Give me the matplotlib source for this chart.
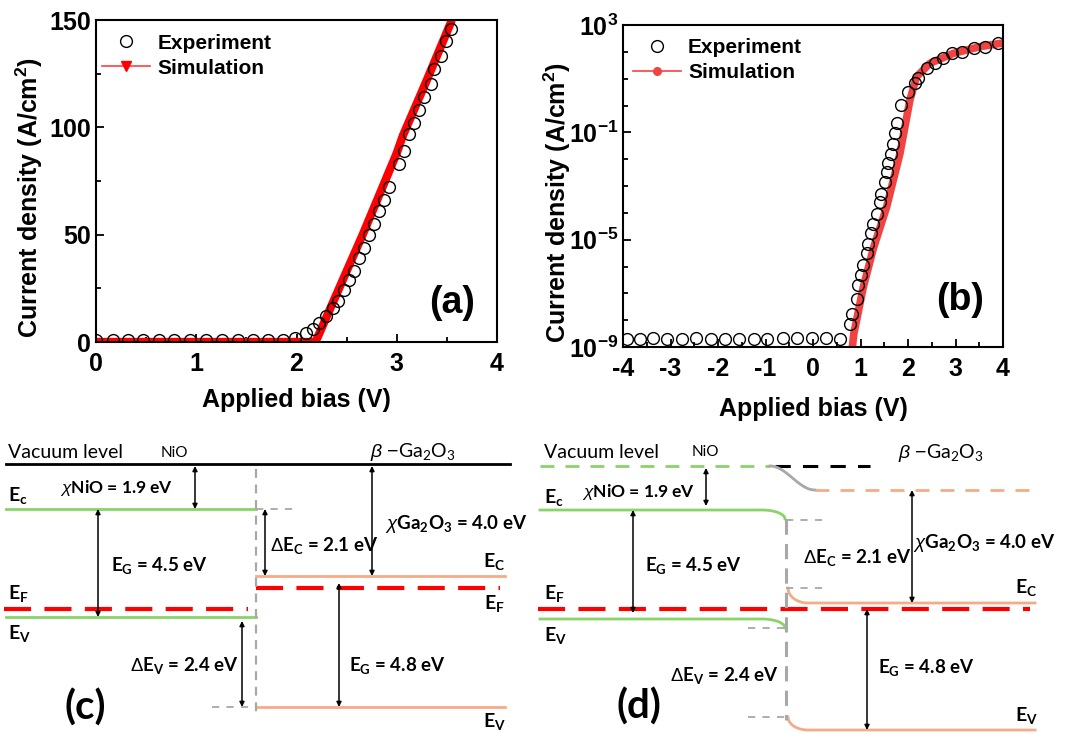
import numpy as np
import matplotlib
matplotlib.use('Agg')
import matplotlib.pyplot as plt
from matplotlib.lines import Line2D
from matplotlib.ticker import MultipleLocator, FixedLocator, FixedFormatter

plt.rcParams['font.family'] = ['Liberation Sans', 'DejaVu Sans']
plt.rcParams['mathtext.fontset'] = 'custom'
plt.rcParams['mathtext.rm'] = 'Liberation Sans'
plt.rcParams['mathtext.it'] = 'Liberation Sans:italic'
plt.rcParams['mathtext.bf'] = 'Liberation Sans:bold'
plt.rcParams['axes.unicode_minus'] = False

# ---- panel (a): linear J-V ----
exp_a_v = [0, 0.17, 0.32, 0.47, 0.63, 0.78, 0.94, 1.10, 1.26, 1.42, 1.57, 1.72, 1.87,
           1.99, 2.09, 2.16, 2.22, 2.29, 2.36, 2.41, 2.47, 2.52, 2.57, 2.62, 2.67, 2.72,
           2.77, 2.82, 2.87, 2.92, 3.02, 3.07, 3.12, 3.17, 3.22, 3.27, 3.34, 3.37, 3.44,
           3.49, 3.54]
exp_a_j = [1, 1, 1, 1, 1, 1, 1, 1, 1, 1, 1, 1, 1,
           2, 4, 6, 9, 12, 16, 19, 24, 29, 33, 39, 44, 50,
           55, 61, 66, 72, 83, 89, 97, 102, 108, 114, 120, 127, 133,
           140, 146]
sim_a_v = [0, 0.5, 1.0, 1.5, 2.0, 2.19, 2.5, 2.66, 3.0, 3.06, 3.3, 3.55]
sim_a_j = [0, 0, 0, 0, 0, 0, 33, 50, 88, 96, 122, 150]

# ---- panel (b): log J-V ----
exp_b_v = [-3.92, -3.64, -3.36, -3.08, -2.76, -2.46, -2.15, -1.85, -1.55, -1.25, -0.96,
           -0.64, -0.34, -0.03, 0.27, 0.57,
           0.78, 0.83, 0.92, 0.95, 1.02, 1.06, 1.13, 1.16, 1.23, 1.27,
           1.34, 1.41, 1.44, 1.51, 1.55, 1.58, 1.65, 1.69, 1.72, 1.76,
           1.86, 2.0, 2.14, 2.21, 2.39, 2.57, 2.74, 2.92, 3.13, 3.38, 3.62, 3.9]
exp_b_logj = [-8.72, -8.7, -8.68, -8.72, -8.7, -8.68, -8.7, -8.72, -8.7, -8.72, -8.7,
              -8.66, -8.66, -8.66, -8.66, -8.7,
              -8.13, -7.76, -7.2, -6.7, -6.33, -5.95, -5.5, -5.15, -4.77, -4.4,
              -4.03, -3.59, -3.28, -2.85, -2.47, -2.16, -1.79, -1.42, -1.04, -0.67,
              0.02, 0.51, 0.82, 1.01, 1.38, 1.57, 1.76, 1.94, 2.0, 2.13, 2.19, 2.32]
sim_b_v = [0.81, 0.86, 1.06, 1.27, 1.55, 1.83, 2.04, 2.18, 2.46, 2.95, 3.51, 3.96]
sim_b_logj = [-9.3, -8.5, -6.76, -5.33, -3.78, -1.79, 0.2, 1.07, 1.57, 1.94, 2.19, 2.32]

W, H = 1070, 733
fig = plt.figure(figsize=(W / 100, H / 100), dpi=100)

# overlay axes in pixel units for the band diagrams
bd = fig.add_axes([0, 0, 1, 1])
bd.set_xlim(0, W)
bd.set_ylim(H, 0)
bd.axis('off')


def box(l, t, r, b):
    return [l / W, (H - b) / H, (r - l) / W, (b - t) / H]


def style_ax(ax):
    for s in ax.spines.values():
        s.set_linewidth(1.5)
    ax.tick_params(which='both', direction='in', width=1.3, labelsize=18, top=False, right=False)
    ax.tick_params(which='major', length=6)
    ax.tick_params(which='minor', length=3.5)
    ax.tick_params(axis='x', which='major', pad=7)
    for lab in ax.get_xticklabels() + ax.get_yticklabels():
        lab.set_fontweight('bold')


LEG = dict(loc='upper left', frameon=False, prop={'weight': 'bold', 'size': 15},
           handlelength=2.3, handletextpad=0.35, labelspacing=0.3, borderpad=0,
           borderaxespad=0)

# ---- panel (a) ----
axa = fig.add_axes(box(96, 20, 497, 342))
axa.plot(sim_a_v, sim_a_j, color='#ff0000', lw=6, solid_capstyle='butt', zorder=2)
axa.plot(exp_a_v, exp_a_j, 'o', mfc='none', mec='black', ms=8.5, mew=1.0, zorder=3)
axa.set_xlim(0, 4)
axa.set_ylim(0, 150)
axa.xaxis.set_major_locator(MultipleLocator(1))
axa.xaxis.set_minor_locator(MultipleLocator(0.5))
axa.yaxis.set_major_locator(MultipleLocator(50))
axa.yaxis.set_minor_locator(MultipleLocator(25))
style_ax(axa)
axa.set_xlabel('Applied bias (V)', fontsize=18, fontweight='bold')
axa.set_ylabel(r'Current density (A/cm$^{\mathbf{2}}$)', fontsize=18, fontweight='bold')
axa.xaxis.set_label_coords(0.5, -0.143)
axa.yaxis.set_label_coords(-0.127, 0.45)
ha = [Line2D([], [], ls='none', marker='o', mfc='none', mec='black', ms=8.5),
      Line2D([], [], color='#ff4040', lw=1.2, marker='v', ms=7, mec='#ff0000', mfc='#ff0000')]
axa.legend(ha, ['Experiment', 'Simulation'], bbox_to_anchor=(0.015, 0.958), **LEG)
axa.text(0.888, 0.121, '(a)', transform=axa.transAxes, ha='center', va='center',
         fontsize=27, fontweight='bold')

# ---- panel (b) ----
axb = fig.add_axes(box(623, 25, 1003, 347))
axb.plot(sim_b_v, [10 ** v for v in sim_b_logj], color='#f24343', lw=5.5, zorder=2)
axb.plot(exp_b_v, [10 ** v for v in exp_b_logj], 'o', mfc='none', mec='black', ms=8.5,
         mew=1.0, zorder=3)
axb.set_yscale('log')
axb.set_xlim(-4, 4)
axb.set_ylim(1e-9, 1e3)
axb.xaxis.set_major_locator(MultipleLocator(1))
axb.xaxis.set_minor_locator(MultipleLocator(0.5))
exps = [-9, -5, -1, 3]
axb.yaxis.set_major_locator(FixedLocator([10.0 ** e for e in exps]))
axb.yaxis.set_major_formatter(FixedFormatter([r'$\mathbf{10^{%d}}$' % e for e in exps]))
axb.yaxis.set_minor_locator(FixedLocator([10.0 ** e for e in range(-9, 4)]))
axb.yaxis.set_minor_formatter(FixedFormatter([''] * 13))
style_ax(axb)
axb.set_xlabel('Applied bias (V)', fontsize=18, fontweight='bold')
axb.set_ylabel(r'Current density (A/cm$^{\mathbf{2}}$)', fontsize=18, fontweight='bold')
axb.xaxis.set_label_coords(0.5, -0.155)
axb.yaxis.set_label_coords(-0.132, 0.45)
hb = [Line2D([], [], ls='none', marker='o', mfc='none', mec='black', ms=8.5),
      Line2D([], [], color='#f24343', lw=1.2, marker='o', ms=5.5, mec='#f24343', mfc='#f24343')]
axb.legend(hb, ['Experiment', 'Simulation'], bbox_to_anchor=(0.026, 0.96), **LEG)
axb.text(0.887, 0.146, '(b)', transform=axb.transAxes, ha='center', va='center',
         fontsize=27, fontweight='bold')

# ---- band diagrams (c) and (d) ----
# level positions (diagram units, top = vacuum)
lev_c = {'vac': 464, 'nio_ec': 509, 'nio_ef': 609, 'nio_ev': 617,
         'ga_ec': 576, 'ga_ef': 588, 'ga_ev': 707}
lev_d = {'vac': 466, 'ga_vac': 490, 'nio_ec': 510, 'nio_ec_end': 519, 'ef': 609,
         'nio_ev': 619, 'nio_ev_end': 628, 'ga_ec_top': 588, 'ga_ec': 603,
         'ga_ev_top': 717, 'ga_ev': 730}

GREEN = '#88d468'
ORANGE = '#f5ab85'
RED = '#ff0000'
GRAY = '#a8a8a8'
tf = ['Lato', 'DejaVu Sans']


def arrow(x, y0, y1):
    bd.annotate('', xy=(x, y1), xytext=(x, y0),
                arrowprops=dict(arrowstyle='<|-|>', color='black', lw=1.1,
                                mutation_scale=7, shrinkA=0, shrinkB=0))


def txt(x, y, s, size=13, weight='bold', **kw):
    bd.text(x, y, s, fontsize=size, family=tf, ha='left', va='center',
            fontweight=weight, **kw)


def hline(y, x0, x1, **kw):
    bd.plot([x0, x1], [y, y], **kw)


t = np.linspace(0, np.pi / 2, 30)
BETA = r'$\beta$ $-$Ga$_{\mathregular{2}}$O$_{\mathregular{3}}$'
CHI_GA = r'$\chi$Ga$_{\mathregular{2}}$O$_{\mathregular{3}}$ = 4.0 eV'

# (c)
c = lev_c
hline(c['vac'], 6, 510, color='black', lw=2)
hline(c['nio_ec'], 6, 256, color=GREEN, lw=2)
hline(c['nio_ev'], 6, 256, color=GREEN, lw=2)
hline(c['nio_ef'], 4, 248, color=RED, lw=3, dashes=(6.5, 3.2))
hline(c['ga_ec'], 256, 505, color=ORANGE, lw=2)
hline(c['ga_ev'], 256, 505, color=ORANGE, lw=2)
hline(c['ga_ef'], 256, 500, color=RED, lw=3, dashes=(6.5, 3.2))
bd.plot([256, 256], [469, 712], color=GRAY, lw=1.6, dashes=(4, 3))
hline(c['nio_ec'], 256, 297, color=GRAY, lw=1.3, dashes=(4, 4))
hline(c['ga_ev'], 212, 256, color=GRAY, lw=1.3, dashes=(4, 4))
arrow(195, c['vac'] + 2, c['nio_ec'])
arrow(98, c['nio_ec'], c['nio_ev'])
arrow(265, c['nio_ec'], c['ga_ec'])
arrow(372, c['vac'] + 2, c['ga_ec'])
arrow(339, c['ga_ef'] - 5, c['ga_ev'])
arrow(242, c['nio_ev'] + 4, c['ga_ev'])

txt(8, 452, 'Vacuum level', 14, 'normal')
txt(161, 453, 'NiO', 11, 'normal')
txt(370, 452, BETA, 14, 'normal')
txt(60, 488, r'$\chi$NiO = 1.9 eV', 12.5)
txt(8, 496, r'E$_{\mathregular{c}}$', 14)
txt(111, 565, r'E$_{\mathregular{G}}$ = 4.5 eV', 13.5)
txt(8, 593, r'E$_{\mathregular{F}}$', 14)
txt(8, 634, r'E$_{\mathregular{V}}$', 14)
txt(270, 546, r'$\Delta$E$_{\mathregular{C}}$ = 2.1 eV', 13.5)
txt(385, 524, CHI_GA, 13.5)
txt(483, 562, r'E$_{\mathregular{C}}$', 14)
txt(484, 604, r'E$_{\mathregular{F}}$', 14)
txt(483, 722, r'E$_{\mathregular{V}}$', 14)
txt(349, 666, r'E$_{\mathregular{G}}$ = 4.8 eV', 13.5)
txt(130, 666, r'$\Delta$E$_{\mathregular{V}}$ = 2.4 eV', 13.5)
txt(64, 708, '(c)', 29)

# (d)
d = lev_d
hline(d['vac'], 540, 770, color=GREEN, lw=2, dashes=(5, 4))
hline(d['vac'], 775, 870, color='black', lw=2.2, dashes=(5, 4))
s = np.linspace(0, 1, 40)
bd.plot(770 + 45 * s, d['vac'] + (d['ga_vac'] - d['vac']) * (1 - np.cos(np.pi * s)) / 2,
        color=GRAY, lw=2)
hline(d['ga_vac'], 815, 1033, color=ORANGE, lw=2, dashes=(5, 4))
# NiO Ec, Ev bending down at the interface
for y0, y1 in [(d['nio_ec'], d['nio_ec_end']), (d['nio_ev'], d['nio_ev_end'])]:
    xs = np.concatenate([[540], 762 + 23 * np.sin(t)])
    ys = np.concatenate([[y0], y0 + (y1 - y0) * (1 - np.cos(t))])
    bd.plot(xs, ys, color=GREEN, lw=2)
# Ga2O3 Ec, Ev bending down from the interface
for y0, y1 in [(d['ga_ec_top'], d['ga_ec']), (d['ga_ev_top'], d['ga_ev'])]:
    xs = np.concatenate([788 + 20 * (1 - np.cos(t)), [1035]])
    ys = np.concatenate([y0 + (y1 - y0) * np.sin(t), [y1]])
    bd.plot(xs, ys, color=ORANGE, lw=2)
hline(d['ef'], 538, 1030, color=RED, lw=3, dashes=(6.5, 3.2))
bd.plot([786, 786], [d['nio_ec_end'], 720], color=GRAY, lw=2.2, dashes=(5, 3))
hline(d['nio_ec_end'] + 1, 786, 827, color=GRAY, lw=1.3, dashes=(4, 4))
hline(d['ga_ec_top'], 786, 827, color=GRAY, lw=1.3, dashes=(4, 4))
hline(d['nio_ev_end'], 748, 786, color=GRAY, lw=1.3, dashes=(4, 4))
hline(d['ga_ev_top'], 748, 786, color=GRAY, lw=1.3, dashes=(4, 4))
arrow(706, d['vac'] + 2, d['nio_ec'] - 4)
arrow(633, d['nio_ec'], d['ef'] + 4)
arrow(912, d['ga_vac'], d['ga_ec'])
arrow(867, d['ef'], d['ga_ev'])

txt(544, 452, 'Vacuum level', 14, 'normal')
txt(692, 452, 'NiO', 11, 'normal')
txt(898, 453, BETA, 14, 'normal')
txt(582, 492, r'$\chi$NiO = 1.9 eV', 12.5)
txt(544, 498, r'E$_{\mathregular{c}}$', 14)
txt(645, 566, r'E$_{\mathregular{G}}$ = 4.5 eV', 13.5)
txt(544, 594, r'E$_{\mathregular{F}}$', 14)
txt(544, 636, r'E$_{\mathregular{V}}$', 14)
txt(803, 558, r'$\Delta$E$_{\mathregular{C}}$ = 2.1 eV', 13.5)
txt(913, 543, CHI_GA, 13.5)
txt(1015, 588, r'E$_{\mathregular{C}}$', 14)
txt(878, 667, r'E$_{\mathregular{G}}$ = 4.8 eV', 13.5)
txt(670, 675, r'$\Delta$E$_{\mathregular{V}}$ = 2.4 eV', 13.5)
txt(1015, 716, r'E$_{\mathregular{V}}$', 14)
txt(616, 707, '(d)', 29)

fig.savefig('out.png', dpi=100)
